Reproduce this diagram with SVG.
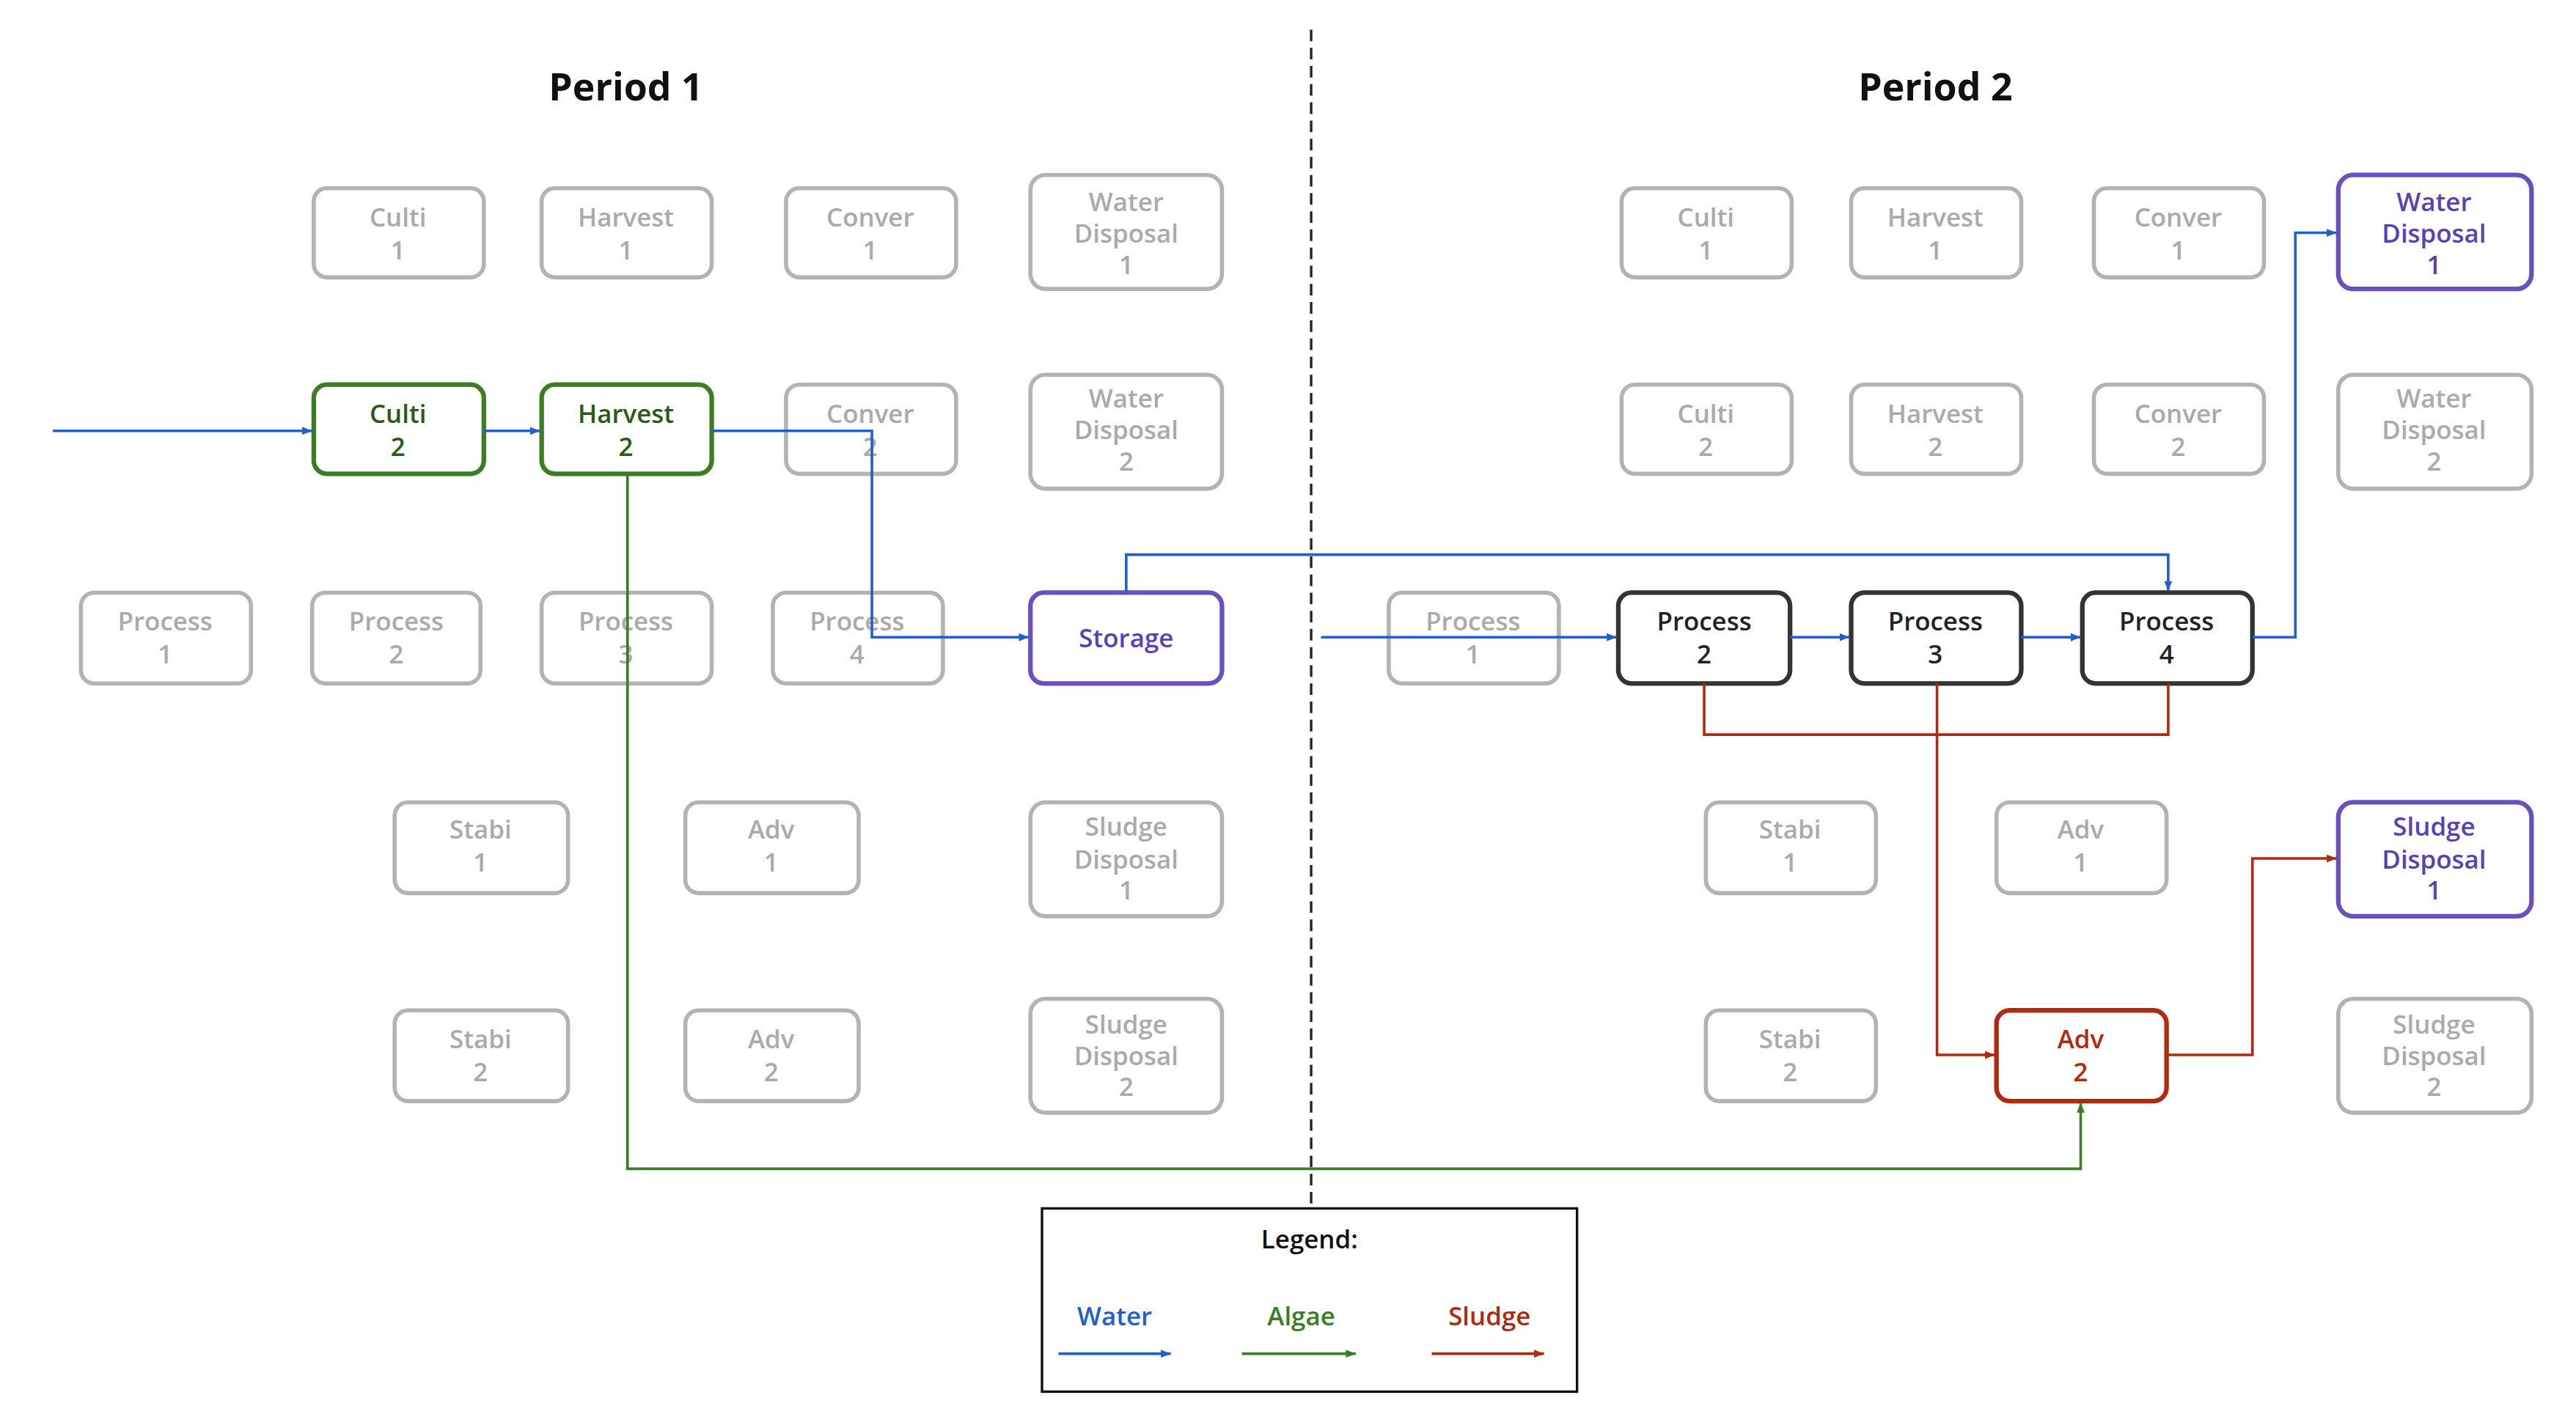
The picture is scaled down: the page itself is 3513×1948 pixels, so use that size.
<svg xmlns="http://www.w3.org/2000/svg" width="3513" height="1948" viewBox="0 0 3513 1948">
<style>
text{font-family:"Open Sans","Liberation Sans",sans-serif;font-weight:600;font-size:15.5px;text-anchor:middle}
.g rect{fill:#fff;stroke:#b3b3b3;stroke-width:2.5}
.g text{fill:#aaaaaa}
.dk rect{fill:#fff;stroke:#333;stroke-width:2.8}
.dk text{fill:#222}
.gr rect{fill:#fff;stroke:#3a7d22;stroke-width:2.8}
.gr text{fill:#2a5a18}
.pu rect{fill:#fff;stroke:#6a4fc1;stroke-width:2.8}
.pu text{fill:#5a3fb5}
.rd rect{fill:#fff;stroke:#b02a10;stroke-width:2.8}
.rd text{fill:#b02a10}
.w{stroke:#1f5fd0;fill:none;stroke-width:1.6}
.a{stroke:#3a7d22;fill:none;stroke-width:1.6}
.s{stroke:#b02a10;fill:none;stroke-width:1.6}
</style>
<defs>
<marker id="mw" viewBox="0 0 10 10" refX="10" refY="5" markerWidth="6" markerHeight="6" orient="auto" markerUnits="userSpaceOnUse"><path d="M0,1L10,5L0,9z" fill="#1f5fd0"/></marker>
<marker id="ma" viewBox="0 0 10 10" refX="10" refY="5" markerWidth="6" markerHeight="6" orient="auto" markerUnits="userSpaceOnUse"><path d="M0,1L10,5L0,9z" fill="#3a7d22"/></marker>
<marker id="ms" viewBox="0 0 10 10" refX="10" refY="5" markerWidth="6" markerHeight="6" orient="auto" markerUnits="userSpaceOnUse"><path d="M0,1L10,5L0,9z" fill="#b02a10"/></marker>
</defs>
<rect width="3513" height="1948" fill="#fff"/>
<g transform="scale(2.252)">
<text x="379" y="61" style="font-size:23px;font-weight:700;fill:#111">Period 1</text>
<text x="1172" y="61" style="font-size:23px;font-weight:700;fill:#111">Period 2</text>
<line x1="794" y1="18" x2="794" y2="730" stroke="#222" stroke-width="1.5" stroke-dasharray="7,4"/>

<g id="nodes-p1">
<g id="culti1" class="g"><rect x="190" y="114" width="103" height="54" rx="8"/><text x="241" y="137">Culti</text><text x="241" y="157">1</text></g>
<g id="harvest1" class="g"><rect x="328" y="114" width="103" height="54" rx="8"/><text x="379" y="137">Harvest</text><text x="379" y="157">1</text></g>
<g id="conver1" class="g"><rect x="476" y="114" width="103" height="54" rx="8"/><text x="527" y="137">Conver</text><text x="527" y="157">1</text></g>
<g id="wd1" class="g"><rect x="624" y="106" width="116" height="69" rx="9"/><text x="682" y="128">Water</text><text x="682" y="147">Disposal</text><text x="682" y="166">1</text></g>
<g id="culti2" class="gr"><rect x="190" y="233" width="103" height="54" rx="8"/><text x="241" y="256">Culti</text><text x="241" y="276">2</text></g>
<g id="harvest2" class="gr"><rect x="328" y="233" width="103" height="54" rx="8"/><text x="379" y="256">Harvest</text><text x="379" y="276">2</text></g>
<g id="conver2" class="g"><rect x="476" y="233" width="103" height="54" rx="8"/><text x="527" y="256">Conver</text><text x="527" y="276">2</text></g>
<g id="wd2" class="g"><rect x="624" y="227" width="116" height="69" rx="9"/><text x="682" y="247">Water</text><text x="682" y="266">Disposal</text><text x="682" y="285">2</text></g>
<g id="proc1" class="g"><rect x="49" y="359" width="103" height="55" rx="8"/><text x="100" y="382">Process</text><text x="100" y="402">1</text></g>
<g id="proc2" class="g"><rect x="189" y="359" width="102" height="55" rx="8"/><text x="240" y="382">Process</text><text x="240" y="402">2</text></g>
<g id="proc3" class="g"><rect x="328" y="359" width="103" height="55" rx="8"/><text x="379" y="382">Process</text><text x="379" y="402">3</text></g>
<g id="proc4" class="g"><rect x="468" y="359" width="103" height="55" rx="8"/><text x="519" y="382">Process</text><text x="519" y="402">4</text></g>
<g id="storage" class="pu"><rect x="624" y="359" width="116" height="55" rx="8"/><text x="682" y="392">Storage</text></g>
<g id="stabi1" class="g"><rect x="239" y="486" width="105" height="55" rx="8"/><text x="291" y="508">Stabi</text><text x="291" y="528">1</text></g>
<g id="adv1" class="g"><rect x="415" y="486" width="105" height="55" rx="8"/><text x="467" y="508">Adv</text><text x="467" y="528">1</text></g>
<g id="sd1" class="g"><rect x="624" y="486" width="116" height="69" rx="9"/><text x="682" y="506">Sludge</text><text x="682" y="526">Disposal</text><text x="682" y="545">1</text></g>
<g id="stabi2" class="g"><rect x="239" y="612" width="105" height="55" rx="8"/><text x="291" y="635">Stabi</text><text x="291" y="655">2</text></g>
<g id="adv2" class="g"><rect x="415" y="612" width="105" height="55" rx="8"/><text x="467" y="635">Adv</text><text x="467" y="655">2</text></g>
<g id="sd2" class="g"><rect x="624" y="605" width="116" height="69" rx="9"/><text x="682" y="626">Sludge</text><text x="682" y="645">Disposal</text><text x="682" y="664">2</text></g>
</g>

<g id="nodes-p2">
<g id="p2culti1" class="g"><rect x="982" y="114" width="103" height="54" rx="8"/><text x="1033" y="137">Culti</text><text x="1033" y="157">1</text></g>
<g id="p2harvest1" class="g"><rect x="1121" y="114" width="103" height="54" rx="8"/><text x="1172" y="137">Harvest</text><text x="1172" y="157">1</text></g>
<g id="p2conver1" class="g"><rect x="1268" y="114" width="103" height="54" rx="8"/><text x="1319" y="137">Conver</text><text x="1319" y="157">1</text></g>
<g id="p2wd1" class="pu"><rect x="1416" y="106" width="117" height="69" rx="9"/><text x="1474" y="128">Water</text><text x="1474" y="147">Disposal</text><text x="1474" y="166">1</text></g>
<g id="p2culti2" class="g"><rect x="982" y="233" width="103" height="54" rx="8"/><text x="1033" y="256">Culti</text><text x="1033" y="276">2</text></g>
<g id="p2harvest2" class="g"><rect x="1121" y="233" width="103" height="54" rx="8"/><text x="1172" y="256">Harvest</text><text x="1172" y="276">2</text></g>
<g id="p2conver2" class="g"><rect x="1268" y="233" width="103" height="54" rx="8"/><text x="1319" y="256">Conver</text><text x="1319" y="276">2</text></g>
<g id="p2wd2" class="g"><rect x="1416" y="227" width="117" height="69" rx="9"/><text x="1474" y="247">Water</text><text x="1474" y="266">Disposal</text><text x="1474" y="285">2</text></g>
<g id="p2proc1" class="g"><rect x="841" y="359" width="103" height="55" rx="8"/><text x="892" y="382">Process</text><text x="892" y="402">1</text></g>
<g id="p2proc2" class="dk"><rect x="980" y="359" width="104" height="55" rx="8"/><text x="1032" y="382">Process</text><text x="1032" y="402">2</text></g>
<g id="p2proc3" class="dk"><rect x="1121" y="359" width="103" height="55" rx="8"/><text x="1172" y="382">Process</text><text x="1172" y="402">3</text></g>
<g id="p2proc4" class="dk"><rect x="1261" y="359" width="103" height="55" rx="8"/><text x="1312" y="382">Process</text><text x="1312" y="402">4</text></g>
<g id="p2stabi1" class="g"><rect x="1033" y="486" width="103" height="55" rx="8"/><text x="1084" y="508">Stabi</text><text x="1084" y="528">1</text></g>
<g id="p2adv1" class="g"><rect x="1209" y="486" width="103" height="55" rx="8"/><text x="1260" y="508">Adv</text><text x="1260" y="528">1</text></g>
<g id="p2sd1" class="pu"><rect x="1416" y="486" width="117" height="69" rx="9"/><text x="1474" y="506">Sludge</text><text x="1474" y="526">Disposal</text><text x="1474" y="545">1</text></g>
<g id="p2stabi2" class="g"><rect x="1033" y="612" width="103" height="55" rx="8"/><text x="1084" y="635">Stabi</text><text x="1084" y="655">2</text></g>
<g id="p2adv2" class="rd"><rect x="1209" y="612" width="103" height="55" rx="8"/><text x="1260" y="635">Adv</text><text x="1260" y="655">2</text></g>
<g id="p2sd2" class="g"><rect x="1416" y="605" width="117" height="69" rx="9"/><text x="1474" y="626">Sludge</text><text x="1474" y="645">Disposal</text><text x="1474" y="664">2</text></g>
</g>

<g id="connectors">
<path class="w" d="M32,261H189" marker-end="url(#mw)"/>
<path class="w" d="M293,261H327" marker-end="url(#mw)"/>
<path class="w" d="M431,261H528V386H623" marker-end="url(#mw)"/>
<path class="w" d="M682,359V336H1313V358" marker-end="url(#mw)"/>
<path class="w" d="M800,386H979" marker-end="url(#mw)"/>
<path class="w" d="M1084,386H1120" marker-end="url(#mw)"/>
<path class="w" d="M1224,386H1260" marker-end="url(#mw)"/>
<path class="w" d="M1364,386H1390V141H1415" marker-end="url(#mw)"/>
<path class="a" d="M380,288V708H1260V668" marker-end="url(#ma)"/>
<path class="s" d="M1032,414V445H1313V414"/>
<path class="s" d="M1173,414V639H1208" marker-end="url(#ms)"/>
<path class="s" d="M1312,639H1364V520H1415" marker-end="url(#ms)"/>
</g>

<g id="legend">
<rect x="631" y="732" width="324" height="111" fill="#fff" stroke="#111" stroke-width="1.5"/>
<text x="793" y="756" style="fill:#111">Legend:</text>
<text x="675" y="803" style="fill:#1f5fd0">Water</text>
<text x="788" y="803" style="fill:#3a7d22">Algae</text>
<text x="902" y="803" style="fill:#b02a10">Sludge</text>
<path class="w" d="M641,820H709" marker-end="url(#mw)"/>
<path class="a" d="M752,820H821" marker-end="url(#ma)"/>
<path class="s" d="M867,820H935" marker-end="url(#ms)"/>
</g>
</g>
</svg>
